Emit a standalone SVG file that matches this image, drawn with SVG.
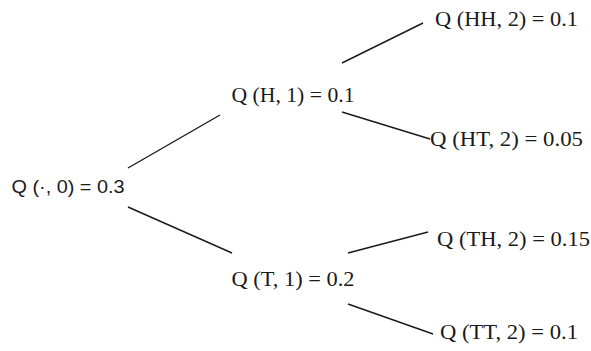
<svg xmlns="http://www.w3.org/2000/svg" width="591" height="351" viewBox="0 0 591 351">
<style>
.s{font-family:"Liberation Serif","Times New Roman",serif;font-size:21px;fill:#1a1a1a}
.r{font-family:"Liberation Sans",Arial,sans-serif;font-size:19px;fill:#1a1a1a}
.e{stroke:#1a1a1a;stroke-width:1.4;fill:none}
</style>
<rect width="591" height="351" fill="#fff"/>
<g id="connectors">
<line class="e" x1="128" y1="168" x2="220" y2="115"/>
<line class="e" x1="128" y1="207" x2="232" y2="253"/>
<line class="e" x1="342" y1="63" x2="423" y2="23"/>
<line class="e" x1="342" y1="112" x2="430" y2="139"/>
<line class="e" x1="348" y1="253" x2="428" y2="232"/>
<line class="e" x1="348" y1="304" x2="433" y2="334"/>
</g>
<g id="root"><text class="r" x="11.5" y="193" textLength="113" lengthAdjust="spacingAndGlyphs">Q (·, 0) = 0.3</text></g>
<g id="h1"><text class="s" x="231.5" y="102" textLength="123" lengthAdjust="spacingAndGlyphs">Q (H, 1) = 0.1</text></g>
<g id="t1"><text class="s" x="231.5" y="286" textLength="123" lengthAdjust="spacingAndGlyphs">Q (T, 1) = 0.2</text></g>
<g id="hh"><text class="s" x="435" y="26" textLength="143" lengthAdjust="spacingAndGlyphs">Q (HH, 2) = 0.1</text></g>
<g id="ht"><text class="s" x="430" y="146" textLength="153" lengthAdjust="spacingAndGlyphs">Q (HT, 2) = 0.05</text></g>
<g id="th"><text class="s" x="437" y="246" textLength="153" lengthAdjust="spacingAndGlyphs">Q (TH, 2) = 0.15</text></g>
<g id="tt"><text class="s" x="440" y="339" textLength="138" lengthAdjust="spacingAndGlyphs">Q (TT, 2) = 0.1</text></g>
</svg>
